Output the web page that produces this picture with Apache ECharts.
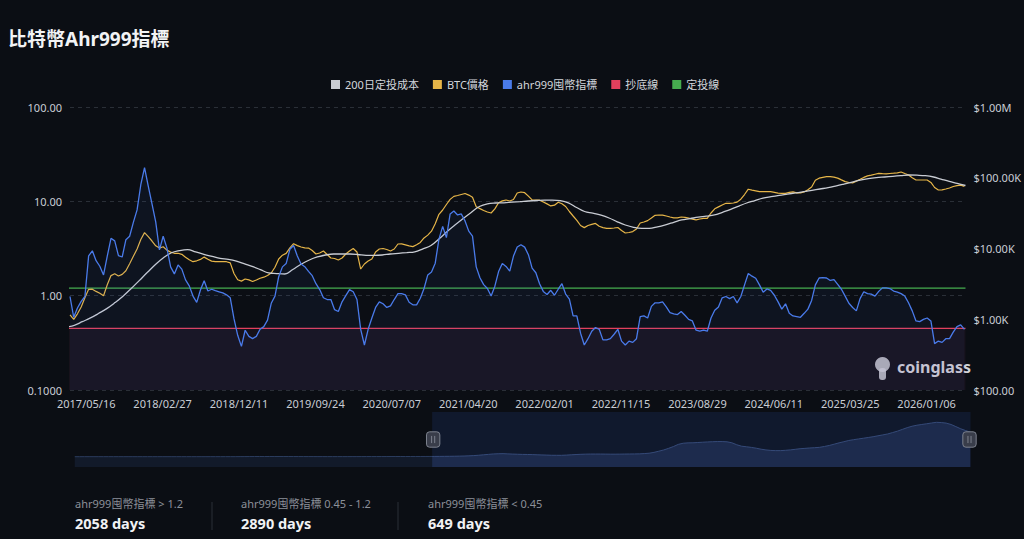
<!DOCTYPE html>
<html>
<head>
<meta charset="utf-8">
<script src="https://cdn.jsdelivr.net/npm/echarts@6/dist/echarts.min.js"></script>
<style>
html,body{margin:0;padding:0;background:#0b0e14;}
#chart{width:1024px;height:539px;}
</style>
</head>
<body>
<div id="chart"></div>
<script>
// ---------- DATA ----------
const ahrStartDate = '2017-03-16';   // first sample of the visible window
const ahrStepDays = 14;              // samples every two weeks

const ahr999Values = [
0.98,0.59,0.74,0.87,0.98,2.64,2.99,2.35,2.05,1.66,
2.63,4.06,3.81,2.66,2.57,3.92,4.26,5.99,8.11,15.0,
22.8,14.5,9.38,6.05,3.06,4.26,3.21,2.02,1.70,2.12,
1.91,1.47,1.27,0.99,0.85,1.15,1.44,1.12,1.17,1.13,
1.10,1.07,1.02,0.95,0.57,0.38,0.29,0.43,0.37,0.35,
0.37,0.44,0.47,0.55,0.83,0.99,1.59,2.02,2.19,3.10,
3.40,2.63,2.17,2.03,1.81,1.63,1.34,1.16,0.95,0.91,
0.91,0.71,0.68,0.86,1.00,1.16,1.10,0.91,0.44,0.30,
0.44,0.58,0.75,0.86,0.82,0.75,0.78,0.91,1.05,1.05,
1.02,0.85,0.80,0.80,0.94,1.19,1.66,1.78,2.21,3.98,
5.43,4.12,7.35,7.89,7.17,7.35,6.20,4.83,4.27,2.02,
1.55,1.31,1.19,0.99,1.26,1.80,2.19,2.04,1.82,2.63,
3.28,3.47,3.27,2.72,1.96,1.75,1.34,1.11,1.03,1.14,
1.01,1.17,1.34,1.04,0.92,0.61,0.61,0.40,0.30,0.35,
0.42,0.46,0.44,0.34,0.34,0.35,0.39,0.44,0.33,0.30,
0.33,0.32,0.35,0.60,0.61,0.58,0.77,0.84,0.84,0.86,
0.76,0.66,0.64,0.63,0.68,0.62,0.56,0.54,0.43,0.42,
0.43,0.42,0.58,0.70,0.76,0.95,0.98,0.93,0.98,0.84,
0.98,1.30,1.72,1.61,1.53,1.30,1.09,1.18,1.14,1.01,
0.86,0.72,0.82,0.65,0.61,0.60,0.59,0.65,0.72,0.89,
1.30,1.54,1.55,1.54,1.45,1.48,1.32,1.17,0.99,0.83,
0.75,0.69,0.93,1.10,1.05,1.04,0.99,1.11,1.21,1.21,
1.19,1.12,1.09,1.05,0.99,0.84,0.69,0.54,0.53,0.56,
0.58,0.54,0.31,0.33,0.32,0.35,0.35,0.41,0.47,0.49,
0.44
];

const btcPriceValues = [
1150,995,1194,1490,2010,2650,2660,2475,2327,2145,
3069,4140,4390,4087,4305,4855,6076,7760,9840,13400,
16780,14680,12760,10920,10130,10600,9493,8895,8555,8555,
8277,7508,6920,6507,6700,7015,7556,7036,6637,6507,
6507,6507,6507,6258,4432,3623,3460,3705,3598,3417,
3588,3803,3930,4150,4505,5440,7105,8040,8525,10200,
11690,10990,10500,10200,10130,9370,8360,8640,9220,8230,
7340,7222,6880,7340,8360,9220,10000,8925,5130,6040,
6660,7105,8925,9840,10000,9680,9220,9840,11580,11610,
11280,10920,10640,11320,12200,14080,15460,17560,22340,30430,
35000,41880,49440,54500,56100,57960,59900,56860,52930,38830,
36650,34440,32810,31760,36280,44250,47090,48480,46920,49270,
60890,62900,61480,55030,48760,48480,48170,45420,42710,40000,
40930,45120,42840,39230,33340,28800,24950,21140,19740,21140,
21900,22630,20600,19740,19300,19300,19500,19810,17970,16560,
16830,17340,18860,22930,23690,24780,26980,29450,29760,29690,
28800,27870,27160,27100,27870,27600,26820,25960,25370,26120,
26730,26730,31760,36390,38730,41190,43540,43540,43960,45270,
49750,57960,68870,66900,65190,63510,63510,63510,63510,62280,
60670,60270,60270,62280,63100,61280,61140,62900,67560,73960,
92350,98540,101500,103500,103500,101800,98860,93230,88230,85680,
84530,89660,95070,101100,106200,108650,112200,115600,114100,113600,
114800,115970,117500,120600,114800,109400,100200,92900,92900,92900,
92900,85970,72810,67130,67290,69340,71620,75200,77450,78700,
75460
];

// 200-day DCA cost, monthly (first of month) from 2011-02
const costStartYear = 2011, costStartMonth = 2;
const costValues = [
0.35,0.45,0.6,0.9,2.0,3.5,5.0,6.5,7.0,6.8,6.0,
5.2,4.5,4.8,5.0,5.0,5.2,5.8,7.0,8.5,10.0,10.8,11.5,
12,13.5,18,30,45,65,80,95,105,110,125,200,
300,420,520,580,600,580,540,530,530,500,460,420,
380,340,300,275,255,245,240,245,245,245,260,285,
320,360,395,415,425,450,500,550,580,600,630,650,
690,730,770,821,923,1045,1205,1414,1719,2117,2713,3519,
4610,6000,7340,8700,9340,9650,8925,8277,7730,7245,7015,6637,
6058,5530,5033,4520,4420,4361,5050,6000,6880,7585,8093,8360,
8360,8360,8230,8000,8000,8093,8360,8550,8750,8980,9900,11030,
13760,17500,21410,26550,32360,39230,42840,43960,44250,45120,46000,46920,
47680,48170,48170,47380,44250,37980,33340,31550,29560,26980,23850,21480,
19940,19300,19300,20260,21630,23450,25370,26460,27700,28610,29760,32490,
35700,39820,43960,47680,51550,54150,56490,58740,61090,63510,66460,69340,
72340,76740,81280,86800,92350,96950,100200,102500,104800,107200,109400,108650,
106900,102500,95700,88720,83200,77700
];

const bottomLevel = 0.45;   // 抄底線
const dcaLevel = 1.2;       // 定投線

const xTickDates = ['2017-05-16','2018-02-27','2018-12-11','2019-09-24','2020-07-07','2021-04-20',
  '2022-02-01','2022-11-15','2023-08-29','2024-06-11','2025-03-25','2026-01-06'];
const windowStart = '2017-03-16';
const windowEnd = '2026-06-01';

const legendNames = ['200日定投成本','BTC價格','ahr999囤幣指標','抄底線','定投線'];
const statLabels = ['ahr999囤幣指標 > 1.2','ahr999囤幣指標 0.45 - 1.2','ahr999囤幣指標 < 0.45'];
const statDays = [2058, 2890, 649];

// ---------- BUILD ----------
const DAY = 86400000;
const ts = s => Date.parse(s + 'T00:00:00Z');
const pad = n => (n < 10 ? '0' : '') + n;
const fmtDate = v => { const d = new Date(v); return d.getUTCFullYear() + '/' + pad(d.getUTCMonth() + 1) + '/' + pad(d.getUTCDate()); };
const ahrTimes = ahr999Values.map((_, i) => ts(ahrStartDate) + i * ahrStepDays * DAY);
const costTimes = costValues.map((_, i) => {
  const m0 = costStartMonth - 1 + i;
  return Date.UTC(costStartYear + Math.floor(m0 / 12), m0 % 12, 1);
});
const zip = (xs, vs) => xs.map((x, i) => [x, vs[i]]);
const firstTime = costTimes[0], lastTime = costTimes[costTimes.length - 1];

const FONT = '"Noto Sans", "Noto Sans CJK TC", sans-serif';
const C = {cost: '#c9ccd3', btc: '#e6b548', ahr: '#4a7bea', red: '#e2405d', green: '#46ad4f'};

const statGraphics = [];
const statX = [75, 241, 428];
statLabels.forEach((t, i) => {
  statGraphics.push({type: 'text', left: statX[i], top: 498,
    style: {text: t, fill: '#8b9099', font: '11px ' + FONT}});
  statGraphics.push({type: 'text', left: statX[i], top: 516,
    style: {text: statDays[i] + ' days', fill: '#f1f2f4', font: 'bold 14.5px ' + FONT}});
});
[212, 398].forEach(x => statGraphics.push({type: 'line',
  shape: {x1: x, y1: 502, x2: x, y2: 530}, style: {stroke: '#2a2e36', lineWidth: 1}}));

const chart = echarts.init(document.getElementById('chart'), null, {renderer: 'svg'});
chart.setOption({
  backgroundColor: '#0b0e14',
  animation: false,
  title: {text: '比特幣Ahr999指標', left: 3, top: 24,
    textStyle: {color: '#f2f3f5', fontSize: 19, fontWeight: 'bold', fontFamily: FONT}},
  legend: {
    data: legendNames, left: 326, top: 74, icon: 'rect',
    itemWidth: 9, itemHeight: 9, itemGap: 14,
    textStyle: {color: '#d3d6dc', fontSize: 11, fontFamily: FONT}
  },
  grid: {left: 70, right: 57, top: 107, bottom: 149},
  xAxis: {
    type: 'value', scale: true, min: 'dataMin', max: 'dataMax',
    axisLine: {show: false}, axisTick: {show: false}, splitLine: {show: false},
    axisLabel: {
      customValues: xTickDates.map(ts), color: '#c9cdd4', fontSize: 11, fontFamily: FONT, margin: 8,
      hideOverlap: false,
      formatter: v => fmtDate(v)
    }
  },
  yAxis: [{
    type: 'log', logBase: 10, min: 0.1, max: 100, position: 'left',
    axisLine: {show: false}, axisTick: {show: false},
    axisLabel: {color: '#c9cdd4', fontSize: 11, fontFamily: FONT, margin: 8,
      formatter: v => (v < 1 ? v.toFixed(4) : v.toFixed(2))},
    splitLine: {show: true, lineStyle: {color: '#2a2f37', type: [4, 4], width: 1}}
  }, {
    type: 'log', logBase: 10, min: 100, max: 1000000, position: 'right',
    axisLine: {show: false}, axisTick: {show: false}, splitLine: {show: false},
    axisLabel: {color: '#c9cdd4', fontSize: 11, fontFamily: FONT, margin: 8,
      formatter: v => v >= 1e6 ? '$' + (v / 1e6).toFixed(2) + 'M' : v >= 1e3 ? '$' + (v / 1e3).toFixed(2) + 'K' : '$' + v.toFixed(2)}
  }],
  dataZoom: [{
    type: 'slider', xAxisIndex: 0, filterMode: 'none',
    startValue: ts(windowStart), endValue: ts(windowEnd),
    left: 72, right: 56, top: 412, height: 55,
    backgroundColor: 'rgba(0,0,0,0)', borderColor: 'transparent',
    fillerColor: 'rgba(24,40,80,0.42)',
    dataBackground: {lineStyle: {color: '#2b3c5e', width: 1, opacity: 1}, areaStyle: {color: '#121a2a', opacity: 1}},
    selectedDataBackground: {lineStyle: {color: '#4a6294', width: 1, opacity: 1}, areaStyle: {color: '#222e4a', opacity: 1}},
    handleIcon: 'path://M3,0H10A3,3,0,0,1,13,3V12A3,3,0,0,1,10,15H3A3,3,0,0,1,0,12V3A3,3,0,0,1,3,0ZM5,4V11M8,4V11',
    handleSize: '28%',
    handleStyle: {color: '#393d4a', borderColor: '#7d828e', borderWidth: 1},
    moveHandleSize: 0, moveHandleStyle: {opacity: 0},
    brushSelect: false, showDetail: false,
    emphasis: {handleStyle: {color: '#393d4a', borderColor: '#7d828e'}, moveHandleStyle: {opacity: 0}}
  }],
  series: [{
    name: legendNames[0], type: 'line', yAxisIndex: 1, data: zip(costTimes, costValues),
    showSymbol: false, symbol: 'none', smooth: 0.4, z: 4,
    lineStyle: {color: C.cost, width: 1.3}, itemStyle: {color: C.cost}
  }, {
    name: legendNames[1], type: 'line', yAxisIndex: 1, data: zip(ahrTimes, btcPriceValues),
    showSymbol: false, symbol: 'none', z: 3,
    lineStyle: {color: C.btc, width: 1.2}, itemStyle: {color: C.btc}
  }, {
    name: legendNames[2], type: 'line', yAxisIndex: 0, data: zip(ahrTimes, ahr999Values),
    showSymbol: false, symbol: 'none', z: 5,
    lineStyle: {color: C.ahr, width: 1.3}, itemStyle: {color: C.ahr},
    areaStyle: {origin: 'start', color: 'rgba(60,110,220,0.09)'}
  }, {
    name: legendNames[3], type: 'line', yAxisIndex: 0,
    data: [[firstTime, bottomLevel], [lastTime, bottomLevel]],
    showSymbol: false, symbol: 'none', z: 2,
    lineStyle: {color: C.red, width: 1.1}, itemStyle: {color: C.red},
    areaStyle: {origin: 'start', color: 'rgba(190,70,130,0.10)'}
  }, {
    name: legendNames[4], type: 'line', yAxisIndex: 0,
    data: [[firstTime, dcaLevel], [lastTime, dcaLevel]],
    showSymbol: false, symbol: 'none', z: 2,
    lineStyle: {color: C.green, width: 1.2}, itemStyle: {color: C.green}
  }],
  graphic: [{
    type: 'circle', left: 875, top: 357, shape: {r: 7.5},
    style: {fill: '#cfd2d8', opacity: 0.85}
  }, {
    type: 'rect', left: 879, top: 368, shape: {width: 7, height: 12, r: 3},
    style: {fill: '#cfd2d8', opacity: 0.85}
  }, {
    type: 'text', left: 897, top: 359,
    style: {text: 'coinglass', fill: '#d0d3d9', font: 'bold 16px ' + FONT}
  }].concat(statGraphics)
});
</script>
</body>
</html>
